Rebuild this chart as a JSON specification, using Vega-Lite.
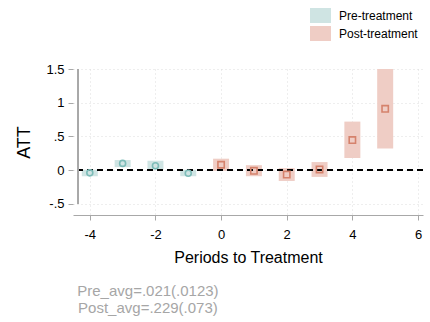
{
  "$schema": "https://vega.github.io/schema/vega-lite/v6.json",
  "autosize": "none",
  "width": 350,
  "height": 146,
  "padding": {"left": 73, "top": 69, "right": 7, "bottom": 107},
  "background": "white",
  "config": {
    "font": "Liberation Sans",
    "view": {"stroke": null},
    "axis": {"labelFont": "Liberation Sans", "titleFont": "Liberation Sans", "titleFontWeight": "normal"}
  },
  "title": {
    "text": ["Pre_avg=.021(.0123)", "Post_avg=.229(.073)"],
    "orient": "bottom",
    "anchor": "start",
    "align": "center",
    "dx": 132,
    "offset": 19,
    "fontSize": 15,
    "fontWeight": "normal",
    "color": "#a6a6a6",
    "lineHeight": 17,
    "font": "Liberation Sans"
  },
  "data": {
    "values": [
      {"period": -4, "est": -0.04, "lo": -0.09, "hi": 0.005, "group": "Pre-treatment"},
      {"period": -3, "est": 0.10, "lo": 0.045, "hi": 0.15, "group": "Pre-treatment"},
      {"period": -2, "est": 0.065, "lo": 0.01, "hi": 0.14, "group": "Pre-treatment"},
      {"period": -1, "est": -0.045, "lo": -0.09, "hi": 0.005, "group": "Pre-treatment"},
      {"period": 0, "est": 0.08, "lo": -0.01, "hi": 0.17, "group": "Post-treatment"},
      {"period": 1, "est": -0.01, "lo": -0.09, "hi": 0.074, "group": "Post-treatment"},
      {"period": 2, "est": -0.065, "lo": -0.16, "hi": 0.03, "group": "Post-treatment"},
      {"period": 3, "est": 0.01, "lo": -0.1, "hi": 0.12, "group": "Post-treatment"},
      {"period": 4, "est": 0.446, "lo": 0.18, "hi": 0.72, "group": "Post-treatment"},
      {"period": 5, "est": 0.91, "lo": 0.32, "hi": 1.5, "group": "Post-treatment"}
    ]
  },
  "layer": [
    {
      "mark": {"type": "bar", "size": 16, "clip": false},
      "encoding": {
        "x": {
          "field": "period", "type": "quantitative",
          "scale": {"domain": [-4.36, 6], "nice": false, "zero": false},
          "axis": {
            "values": [-4, -2, 0, 2, 4, 6],
            "tickCount": 12,
            "labelExpr": "toString(datum.value)",
            "title": "Periods to Treatment",
            "titleFontSize": 16, "titleColor": "black", "titlePadding": 8,
            "labelFontSize": 13, "labelColor": "black", "labelPadding": 8,
            "domainColor": "#a8a8a8", "tickColor": "#a8a8a8", "tickSize": 5,
            "grid": true, "gridColor": "#dddddd", "gridDash": [1, 3]
          }
        },
        "y": {
          "field": "lo", "type": "quantitative",
          "scale": {"domain": [-0.665, 1.5], "nice": false, "zero": false},
          "axis": {
            "values": [-0.5, 0, 0.5, 1, 1.5],
            "tickCount": 12,
            "labelExpr": "datum.value == 0 ? '0' : replace(toString(datum.value), '0.', '.')",
            "labelOverlap": false,
            "title": "ATT",
            "titleFontSize": 18, "titleColor": "black", "titlePadding": 12,
            "labelFontSize": 13, "labelColor": "black", "labelPadding": 4,
            "domain": false, "tickColor": "#a8a8a8", "tickSize": 5,
            "grid": true, "gridColor": "#dddddd", "gridDash": [1, 3]
          }
        },
        "y2": {"field": "hi"},
        "color": {
          "field": "group", "type": "nominal",
          "scale": {"domain": ["Pre-treatment", "Post-treatment"], "range": ["#cfe4e3", "#efcdc5"]},
          "legend": {
            "title": null,
            "orient": "none",
            "legendX": 237,
            "legendY": -64,
            "symbolType": "M-1,-0.714H1V0.714H-1Z",
            "symbolSize": 441,
            "symbolStrokeWidth": 0,
            "symbolOpacity": 1,
            "labelFontSize": 12,
            "labelColor": "black",
            "labelFont": "Liberation Sans",
            "labelOffset": 8,
            "rowPadding": -1,
            "padding": 0
          }
        }
      }
    },
    {
      "mark": {"type": "rule", "color": "black", "strokeDash": [6, 4], "strokeWidth": 1.4, "clip": false},
      "encoding": {"y": {"datum": 0}}
    },
    {
      "mark": {"type": "rule", "color": "#a8a8a8", "strokeWidth": 1},
      "encoding": {"x": {"datum": -4.36}, "y": {"datum": -0.5}, "y2": {"datum": 1.5}}
    },
    {
      "transform": [{"filter": "datum.group == 'Pre-treatment'"}],
      "mark": {"type": "point", "shape": "circle", "filled": false, "strokeWidth": 1.6, "size": 36, "opacity": 1, "stroke": "#7dbcb8"},
      "encoding": {
        "x": {"field": "period", "type": "quantitative"},
        "y": {"field": "est", "type": "quantitative"}
      }
    },
    {
      "transform": [{"filter": "datum.group == 'Post-treatment'"}],
      "mark": {"type": "point", "shape": "square", "filled": false, "strokeWidth": 1.6, "size": 40, "opacity": 1, "stroke": "#d5826c"},
      "encoding": {
        "x": {"field": "period", "type": "quantitative"},
        "y": {"field": "est", "type": "quantitative"}
      }
    }
  ]
}
